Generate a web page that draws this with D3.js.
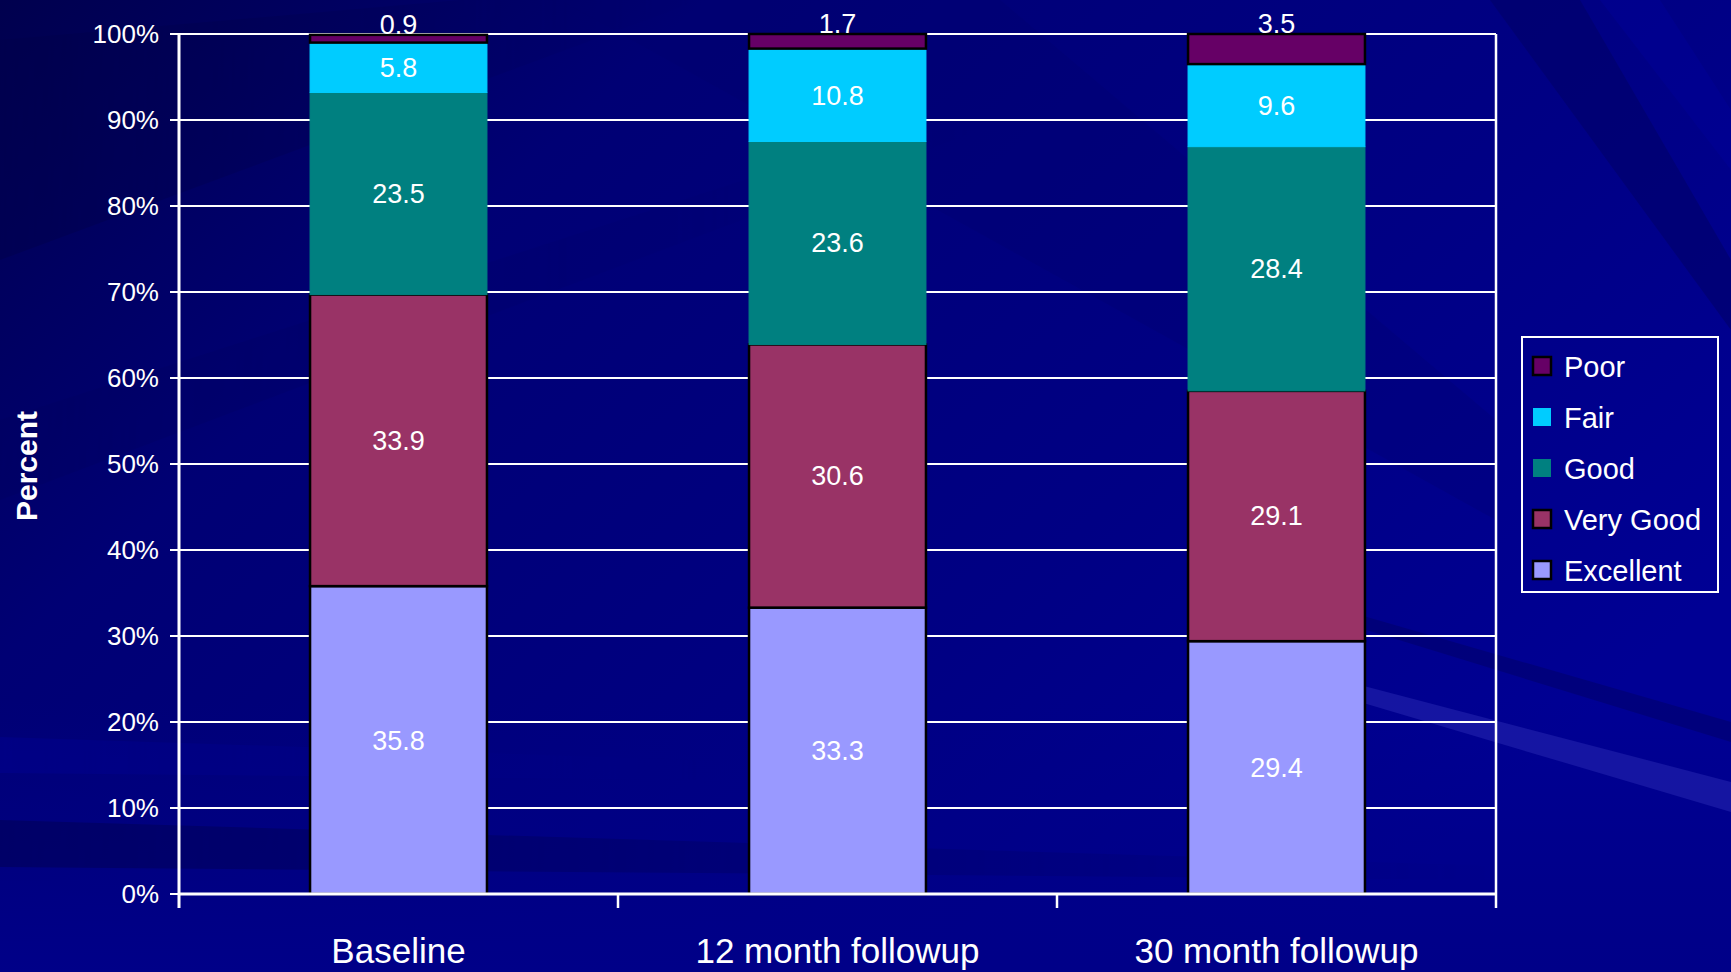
<!DOCTYPE html>
<html>
<head>
<meta charset="utf-8">
<script src="https://cdn.jsdelivr.net/npm/d3@7"></script>
<style>
  html, body { margin: 0; padding: 0; background: #000080; overflow: hidden; }
  svg { display: block; }
  text { font-family: "Liberation Sans", Arial, sans-serif; fill: #ffffff; }
</style>
</head>
<body>
<svg id="chart" width="1731" height="972"></svg>
<script>
// Self-rated health by survey wave (percent of respondents)
const categories = ["Baseline", "12 month followup", "30 month followup"];
const seriesNames = ["Excellent", "Very Good", "Good", "Fair", "Poor"];
const excellent = [35.8, 33.3, 29.4];
const veryGood  = [33.9, 30.6, 29.1];
const good      = [23.5, 23.6, 28.4];
const fair      = [5.8, 10.8, 9.6];
const poor      = [0.9, 1.7, 3.5];
const yTicks = [0, 10, 20, 30, 40, 50, 60, 70, 80, 90, 100];
const legendOrder = ["Poor", "Fair", "Good", "Very Good", "Excellent"];

const seriesValues = {
  "Excellent": excellent,
  "Very Good": veryGood,
  "Good": good,
  "Fair": fair,
  "Poor": poor
};
const colors = {
  "Excellent": "#9999FF",
  "Very Good": "#993366",
  "Good": "#008080",
  "Fair": "#00CCFF",
  "Poor": "#660066"
};
const outlined = { "Excellent": true, "Very Good": true, "Poor": true };

const W = 1731, H = 972;
const plot = { left: 179, right: 1496, top: 34, bottom: 894 };

const svg = d3.select("#chart");

// ---- slide background: navy gradient with soft diagonal streaks ----
const defs = svg.append("defs");
const bg = defs.append("linearGradient").attr("id", "bgGrad")
  .attr("x1", "0").attr("y1", "0").attr("x2", "1").attr("y2", "0.6");
bg.append("stop").attr("offset", "0").attr("stop-color", "#00004e");
bg.append("stop").attr("offset", "0.3").attr("stop-color", "#000074");
bg.append("stop").attr("offset", "0.7").attr("stop-color", "#000084");
bg.append("stop").attr("offset", "1").attr("stop-color", "#000094");
svg.append("rect").attr("width", W).attr("height", H).attr("fill", "url(#bgGrad)");

const bottomGrad = defs.append("linearGradient").attr("id", "bottomGrad")
  .attr("x1", "0").attr("y1", "0").attr("x2", "0").attr("y2", "1");
bottomGrad.append("stop").attr("offset", "0").attr("stop-color", "#000084").attr("stop-opacity", 0);
bottomGrad.append("stop").attr("offset", "1").attr("stop-color", "#000088").attr("stop-opacity", 1);
svg.append("rect").attr("x", 0).attr("y", 700).attr("width", W).attr("height", 272)
  .attr("fill", "url(#bottomGrad)");

// fade mask so streaks blend out toward their ends
const fadeR = defs.append("linearGradient").attr("id", "fadeR")
  .attr("x1", "0").attr("y1", "0").attr("x2", "1").attr("y2", "0");
fadeR.append("stop").attr("offset", "0").attr("stop-color", "#fff").attr("stop-opacity", 1);
fadeR.append("stop").attr("offset", "1").attr("stop-color", "#fff").attr("stop-opacity", 0);
defs.append("mask").attr("id", "fadeMask").attr("maskContentUnits", "objectBoundingBox")
  .append("rect").attr("width", 1).attr("height", 1).attr("fill", "url(#fadeR)");

const streaks = [
  { pts: [[0, 40], [460, 0], [700, 0], [0, 260]], fill: "#00004a", op: 0.45, fade: true },
  { pts: [[0, 420], [900, 130], [980, 130], [0, 500]], fill: "#00005e", op: 0.3, fade: true },
  { pts: [[0, 820], [1500, 866], [1500, 880], [0, 867]], fill: "#000060", op: 0.75, fade: true },
  { pts: [[0, 737], [700, 760], [700, 780], [0, 773]], fill: "#000090", op: 0.5, fade: true },
  { pts: [[1490, 0], [1580, 0], [1731, 260], [1731, 330]], fill: "#000066", op: 0.55, fade: false },
  { pts: [[1600, 0], [1660, 0], [1731, 110], [1731, 170]], fill: "#00009c", op: 0.4, fade: false },
  { pts: [[1360, 685], [1731, 782], [1731, 812], [1360, 702]], fill: "#2a2ab4", op: 0.5, fade: false },
  { pts: [[1360, 615], [1731, 722], [1731, 742], [1360, 628]], fill: "#000062", op: 0.45, fade: false },
  { pts: [[560, 0], [1000, 0], [1496, 420], [1496, 520]], fill: "#00006c", op: 0.25, fade: false }
];
svg.append("g").selectAll("polygon").data(streaks).join("polygon")
  .attr("points", d => d.pts.map(p => p.join(",")).join(" "))
  .attr("fill", d => d.fill).attr("opacity", d => d.op)
  .attr("mask", d => d.fade ? "url(#fadeMask)" : null);

// ---- scales ----
const x = d3.scaleBand().domain(categories).range([plot.left, plot.right]).padding(0);
const y = d3.scaleLinear().domain([0, 100]).range([plot.bottom, plot.top]);
const barW = x.bandwidth() * 0.403;

// ---- gridlines ----
svg.append("g").selectAll("line").data(yTicks.filter(t => t > 0)).join("line")
  .attr("x1", plot.left).attr("x2", plot.right)
  .attr("y1", d => y(d)).attr("y2", d => y(d))
  .attr("stroke", "#ffffff").attr("stroke-width", 2);

// right border of the plot area
svg.append("line")
  .attr("x1", plot.right).attr("x2", plot.right)
  .attr("y1", y(100)).attr("y2", plot.bottom)
  .attr("stroke", "#ffffff").attr("stroke-width", 2.5);

// ---- stacked bars ----
const rows = categories.map((c, i) => {
  const r = { category: c };
  seriesNames.forEach(s => r[s] = seriesValues[s][i]);
  return r;
});
const stacked = d3.stack().keys(seriesNames)(rows);

const barG = svg.append("g");
stacked.forEach(layer => {
  const name = layer.key;
  barG.append("g").selectAll("rect").data(layer).join("rect")
    .attr("x", d => x(d.data.category) + (x.bandwidth() - barW) / 2)
    .attr("width", barW)
    .attr("y", d => y(d[1]))
    .attr("height", d => y(d[0]) - y(d[1]))
    .attr("fill", colors[name])
    .attr("stroke", outlined[name] ? "#000000" : colors[name])
    .attr("stroke-width", outlined[name] ? 2.5 : 1);
});

// ---- value labels ----
const labelG = svg.append("g").attr("font-size", 27).attr("text-anchor", "middle");
stacked.forEach(layer => {
  const name = layer.key;
  labelG.append("g").selectAll("text").data(layer).join("text")
    .attr("x", d => x(d.data.category) + x.bandwidth() / 2)
    .attr("y", d => name === "Poor" ? y(d[1]) - 1 : (y(d[0]) + y(d[1])) / 2)
    .attr("dy", name === "Poor" ? 0 : "0.35em")
    .text(d => d3.format(".1f")(d[1] - d[0]));
});

// ---- axes ----
const axisG = svg.append("g");
axisG.append("line")
  .attr("x1", plot.left).attr("x2", plot.left)
  .attr("y1", y(100)).attr("y2", plot.bottom + 14)
  .attr("stroke", "#ffffff").attr("stroke-width", 3);
axisG.append("line")
  .attr("x1", plot.left).attr("x2", plot.right + 1)
  .attr("y1", plot.bottom).attr("y2", plot.bottom)
  .attr("stroke", "#ffffff").attr("stroke-width", 3);

// y ticks and labels
axisG.append("g").selectAll("line").data(yTicks).join("line")
  .attr("x1", plot.left - 9).attr("x2", plot.left)
  .attr("y1", d => y(d)).attr("y2", d => y(d))
  .attr("stroke", "#ffffff").attr("stroke-width", 2);
axisG.append("g").selectAll("text").data(yTicks).join("text")
  .attr("x", plot.left - 20).attr("y", d => y(d)).attr("dy", "0.36em")
  .attr("text-anchor", "end").attr("font-size", 26)
  .text(d => d + "%");

// x tick marks at category boundaries
const bounds = categories.map(c => x(c)).concat([plot.right]);
axisG.append("g").selectAll("line").data(bounds.slice(1)).join("line")
  .attr("x1", d => d).attr("x2", d => d)
  .attr("y1", plot.bottom).attr("y2", plot.bottom + 14)
  .attr("stroke", "#ffffff").attr("stroke-width", 2.5);

// category labels
axisG.append("g").selectAll("text").data(categories).join("text")
  .attr("x", d => x(d) + x.bandwidth() / 2)
  .attr("y", 963)
  .attr("text-anchor", "middle").attr("font-size", 35)
  .text(d => d);

// y axis title
svg.append("text")
  .attr("transform", "translate(37,466) rotate(-90)")
  .attr("text-anchor", "middle").attr("font-size", 30).attr("font-weight", "bold")
  .text("Percent");

// ---- legend ----
const legend = svg.append("g");
legend.append("rect")
  .attr("x", 1522).attr("y", 337).attr("width", 196).attr("height", 255)
  .attr("fill", "none").attr("stroke", "#ffffff").attr("stroke-width", 2);
const item = legend.selectAll("g.item").data(legendOrder).join("g")
  .attr("class", "item")
  .attr("transform", (d, i) => `translate(1532, ${366 + i * 51})`);
item.append("rect")
  .attr("x", 1).attr("y", -9).attr("width", 18).attr("height", 18)
  .attr("fill", d => colors[d])
  .attr("stroke", d => outlined[d] ? "#000000" : "none")
  .attr("stroke-width", 2.5);
item.append("text")
  .attr("x", 32).attr("y", 11)
  .attr("font-size", 29)
  .text(d => d);
</script>
</body>
</html>
